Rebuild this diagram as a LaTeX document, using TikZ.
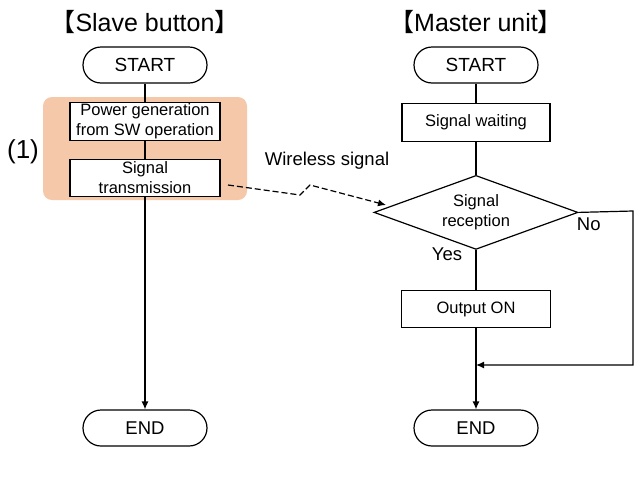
\documentclass[tikz,border=0pt]{standalone}
\usepackage{fontspec}
\setmainfont{Liberation Sans}
\newfontfamily\cjk{Noto Sans CJK JP}
\usepackage{xcolor}
\usetikzlibrary{positioning,arrows.meta,shapes.geometric}

\definecolor{peach}{RGB}{245,200,170}

\begin{document}
\begin{tikzpicture}[x=1pt,y=-1pt,line width=1.2pt,
  every node/.style={font=\fontsize{16.5}{20}\selectfont},
  terminal/.style={rectangle,draw,rounded corners=18pt,minimum width=124pt,
    minimum height=36pt,font=\fontsize{19}{21}\selectfont},
  process/.style={rectangle,draw,fill=white,minimum width=150pt,
    minimum height=38pt,align=center,inner sep=1pt},
  decision/.style={diamond,draw,aspect=2.76,minimum width=204pt,
    minimum height=74pt,inner sep=0pt,align=center},
  title/.style={font=\fontsize{25}{27}\selectfont},
  label/.style={font=\fontsize{18.5}{20}\selectfont},
  tip/.style={-{Latex[length=8pt,width=7pt]}}]
  \useasboundingbox (0,0) rectangle (642,480);
  % slave button
  \fill[peach,rounded corners=9pt] (43,97) rectangle (247,200);
  \node[title] (slave) at (145,22) {{\cjk 【}Slave button{\cjk 】}};
  \node[terminal] (sstart) at (145,65) {START};
  \node[process,below=18pt of sstart] (power) {Power generation\\from SW operation};
  \node[process,below=18pt of power,minimum height=37pt] (send) {Signal\\transmission};
  \node[terminal,font=\fontsize{18.5}{20}\selectfont] (send2) at (145,428) {END};
  \node[font=\fontsize{26}{28}\selectfont] (one) at (23,152) {(1)};
  % master unit
  \node[title] (master) at (476,22) {{\cjk 【}Master unit{\cjk 】}};
  \node[terminal] (mstart) at (476,65) {START};
  \node[process,below=19pt of mstart,minimum width=148pt] (wait) {Signal waiting};
  \node[decision,below=33pt of wait] (recv) {Signal\\reception};
  \node[process,below=40pt of recv,minimum width=149pt,minimum height=37pt] (out) {Output ON};
  \node[terminal,font=\fontsize{18.5}{20}\selectfont] (mend) at (476,428) {END};
  \node[label,anchor=east] (yes) at (466,254) {Yes};
  \node[label,anchor=west] (no) at (573,224) {No};
  \node[label] (wl) at (327,161) {Wireless signal};
  \coordinate (loop1) at (633,211);
  \coordinate (loop2) at (633,365);
  \coordinate (join) at (476,365);
  \coordinate (w1) at (228,185);
  \coordinate (w2) at (300,195);
  \coordinate (w3) at (310,185);
  \coordinate (w4) at (386,205);
  % connectors
  \draw (sstart) -- (power);
  \draw (power) -- (send);
  \draw[tip] (send) -- (send2);
  \draw (mstart) -- (wait);
  \draw (wait) -- (recv);
  \draw (recv) -- (out);
  \draw[tip] (out) -- (mend);
  \draw[tip] (recv.east) -- (loop1) -- (loop2) -- (join);
  \draw[tip,dash pattern=on 6pt off 3pt] (w1) -- (w2) -- (w3) -- (w4);
\end{tikzpicture}
\end{document}
